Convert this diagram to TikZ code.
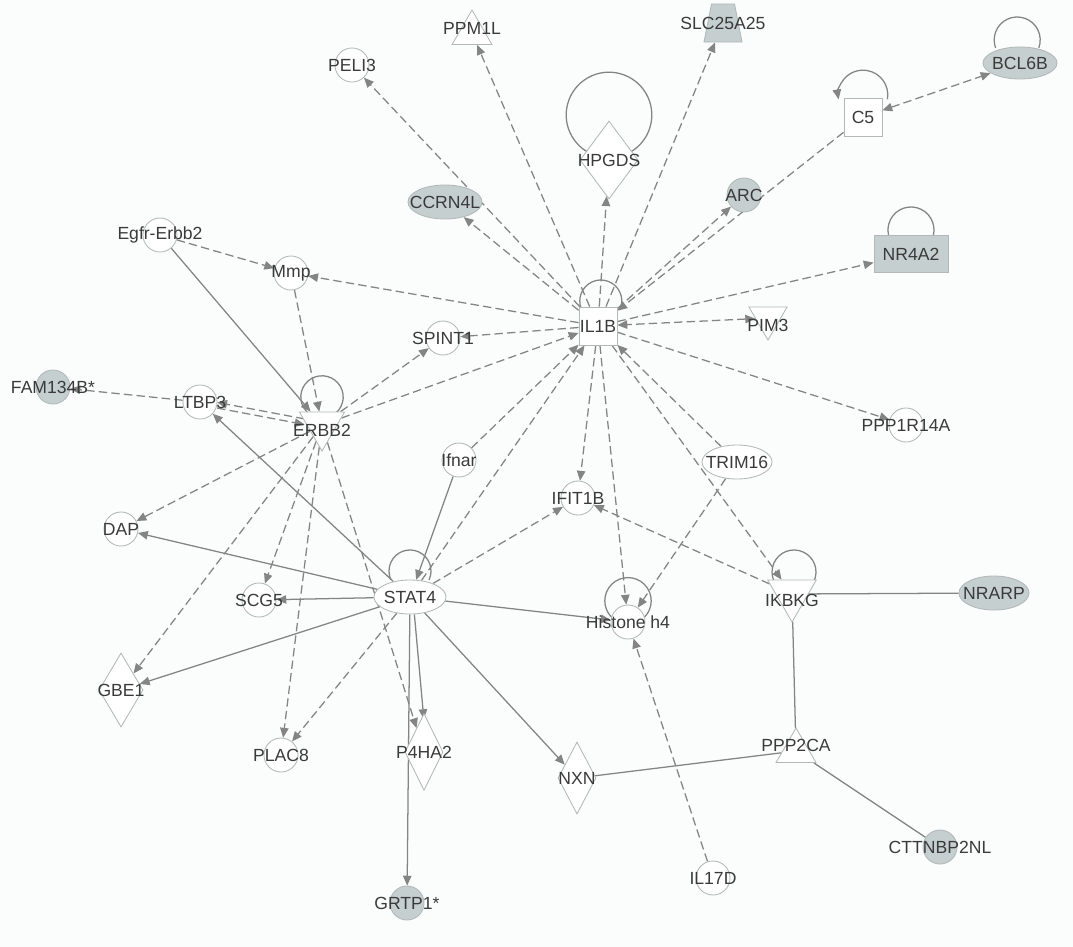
\documentclass[tikz,border=0pt]{standalone}
\usepackage{fontspec}
\setmainfont{Liberation Sans}
\usetikzlibrary{shapes.geometric, arrows.meta, positioning, backgrounds}
\definecolor{edgegray}{RGB}{132,132,132}
\definecolor{nodeline}{RGB}{178,184,184}
\definecolor{nodefill}{RGB}{198,207,207}
\definecolor{labelgray}{RGB}{58,58,58}
\definecolor{bggray}{RGB}{251,252,252}
\tikzset{
    gene/.style={draw=nodeline, line width=0.6pt, inner sep=0pt, fill=white},
    other/.style={gene, circle, minimum size=0.85cm},
    txreg/.style={gene, ellipse, minimum width=1.8cm, minimum height=0.85cm},
    enzyme/.style={gene, diamond, minimum width=1.1cm, minimum height=1.85cm},
    kinase/.style={gene, regular polygon, regular polygon sides=3, shape border rotate=180, minimum size=1.2cm},
    phosphatase/.style={gene, regular polygon, regular polygon sides=3, minimum size=1.15cm},
    cytokine/.style={gene, rectangle, minimum size=0.95cm},
    receptor/.style={gene, rectangle, minimum width=1.85cm, minimum height=0.92cm},
    transporter/.style={gene, trapezium, trapezium stretches=true, inner sep=2pt, trapezium left angle=72, trapezium right angle=72, minimum width=0.95cm, minimum height=0.95cm},
    focus/.style={fill=nodefill},
    gtext/.style={font=\fontsize{12.5}{14}\selectfont, text=labelgray, inner sep=0pt},
    bind/.style={line width=0.9pt, draw=edgegray},
    rel/.style={bind, -{Triangle[length=7pt, width=6pt]}},
    dashrel/.style={rel, dash pattern=on 6pt off 3pt}
}

\begin{document}
\begin{tikzpicture}[x=0.025cm, y=-0.025cm]

    \useasboundingbox (0,0) rectangle (1073,947);

    % ============================================================
    % Upper part: IL1B and its targets
    % ============================================================
    \node[phosphatase, label={[gtext, yshift=0.12cm]center:PPM1L}] (ppm1l) at (472,33) {};
    \node[other, label={[gtext]center:PELI3}] (peli3) at (352,65) {};
    \node[transporter, focus, label={[gtext]center:SLC25A25}] (slc25a25) at (723,23) {};
    \node[enzyme, minimum width=1.45cm, minimum height=1.95cm, label={[gtext]center:HPGDS}] (hpgds) at (609,160) {};
    \node[txreg, focus, minimum width=1.85cm, label={[gtext]center:CCRN4L}] (ccrn4l) at (445,202) {};
    \node[other, focus, label={[gtext]center:ARC}] (arc) at (744,195) {};
    \node[cytokine, label={[gtext]center:C5}] (c5) at (863,117) {};
    \node[txreg, focus, minimum width=1.85cm, minimum height=0.8cm, label={[gtext]center:BCL6B}] (bcl6b) at (1020,63) {};
    \node[receptor, focus, label={[gtext]center:NR4A2}] (nr4a2) at (911,254) {};
    \node[other, label={[gtext]center:Egfr-Erbb2}] (egfr) at (160,235) {};
    \node[other, label={[gtext]center:Mmp}] (mmp) at (291,273) {};
    \node[cytokine, label={[gtext]center:IL1B}] (il1b) at (598,326) {};
    \node[kinase, minimum size=1.1cm, label={[gtext, yshift=-0.175cm]center:PIM3}] (pim3) at (768,318) {};
    \node[other, label={[gtext]center:SPINT1}] (spint1) at (443,338) {};
    \node[other, label={[gtext]center:PPP1R14A}] (ppp1r14a) at (906,425) {};

    % ============================================================
    % Middle part: ERBB2 and STAT4
    % ============================================================
    \node[other, focus, label={[gtext]center:FAM134B*}] (fam134b) at (53,387) {};
    \node[other, label={[gtext]center:LTBP3}] (ltbp3) at (200,402) {};
    \node[kinase, minimum size=1.3cm, label={[gtext, yshift=-0.125cm]center:ERBB2}] (erbb2) at (322,425) {};
    \node[other, label={[gtext]center:Ifnar}] (ifnar) at (459,460) {};
    \node[txreg, minimum width=1.75cm, label={[gtext]center:TRIM16}] (trim16) at (737,462) {};
    \node[other, label={[gtext]center:IFIT1B}] (ifit1b) at (578,498) {};
    \node[other, label={[gtext]center:DAP}] (dap) at (121,529) {};
    \node[other, label={[gtext]center:SCG5}] (scg5) at (259,600) {};
    \node[txreg, label={[gtext]center:STAT4}] (stat4) at (410,597) {};
    \node[other, label={[gtext]center:Histone h4}] (histone) at (628,622) {};
    \node[kinase, minimum size=1.4cm, label={[gtext, yshift=-0.15cm]center:IKBKG}] (ikbkg) at (792,594) {};
    \node[txreg, focus, minimum width=1.75cm, label={[gtext]center:NRARP}] (nrarp) at (994,593) {};

    % ============================================================
    % Lower part
    % ============================================================
    \node[enzyme, label={[gtext]center:GBE1}] (gbe1) at (121,690) {};
    \node[other, label={[gtext]center:PLAC8}] (plac8) at (281,755) {};
    \node[enzyme, minimum width=0.95cm, minimum height=1.92cm, label={[gtext]center:P4HA2}] (p4ha2) at (424,752) {};
    \node[enzyme, minimum width=0.95cm, minimum height=1.8cm, label={[gtext]center:NXN}] (nxn) at (577,778) {};
    \node[phosphatase, label={[gtext, yshift=0.15cm]center:PPP2CA}] (ppp2ca) at (796,751) {};
    \node[other, focus, label={[gtext]center:GRTP1*}] (grtp1) at (407,903) {};
    \node[other, label={[gtext]center:IL17D}] (il17d) at (713,878) {};
    \node[other, focus, label={[gtext]center:CTTNBP2NL}] (cttnbp2nl) at (940,847) {};

    \begin{pgfonlayer}{background}
        \fill[bggray] (0,0) rectangle (1073,947);

        % self loops
        \draw[bind] ([yshift=1.125cm]hpgds.center) ++(-60:1.07cm) arc[start angle=-60, end angle=240, radius=1.07cm];
        \draw[rel] ([yshift=0.55cm]c5.center) ++(-10:0.62cm) arc[start angle=-10, end angle=190, radius=0.62cm];
        \draw[bind] ([xshift=-0.07cm, yshift=0.575cm]bcl6b.center) ++(-20:0.575cm) arc[start angle=-20, end angle=200, radius=0.575cm];
        \draw[bind] ([yshift=0.6cm]nr4a2.center) ++(-15:0.575cm) arc[start angle=-15, end angle=195, radius=0.575cm];
        \draw[bind] ([xshift=0.07cm, yshift=0.625cm]il1b.center) ++(-20:0.525cm) arc[start angle=-20, end angle=200, radius=0.525cm];
        \draw[bind] ([yshift=0.7cm]erbb2.center) ++(-60:0.53cm) arc[start angle=-60, end angle=240, radius=0.53cm];
        \draw[bind] ([yshift=0.65cm]stat4.center) ++(-25:0.525cm) arc[start angle=-25, end angle=205, radius=0.525cm];
        \draw[bind] ([yshift=0.53cm]histone.center) ++(-45:0.58cm) arc[start angle=-45, end angle=225, radius=0.58cm];
        \draw[bind] ([xshift=0.05cm, yshift=0.55cm]ikbkg.center) ++(-25:0.55cm) arc[start angle=-25, end angle=205, radius=0.55cm];

        % IL1B
        \draw[dashrel] (il1b) -- (peli3);
        \draw[dashrel] (il1b) -- (ppm1l);
        \draw[dashrel] (il1b) -- (ccrn4l);
        \draw[dashrel] (il1b) -- (mmp);
        \draw[dashrel] (il1b) -- (slc25a25);
        \draw[dashrel] (il1b) -- (hpgds);
        \draw[dashrel] (il1b) -- (arc);
        \draw[dashrel] (c5) -- (il1b);
        \draw[dashrel, {Triangle[length=7pt, width=6pt]}-{Triangle[length=7pt, width=6pt]}] (c5) -- (bcl6b);
        \draw[dashrel] (il1b) -- (nr4a2);
        \draw[dashrel, {Triangle[length=7pt, width=6pt]}-{Triangle[length=7pt, width=6pt]}] (pim3) -- (il1b);
        \draw[dashrel] (il1b) -- (ppp1r14a);
        \draw[dashrel] (trim16) -- (il1b);
        \draw[dashrel] (il1b) -- (ikbkg);
        \draw[dashrel] (il1b) -- (ifit1b);
        \draw[dashrel] (il1b) -- (histone);
        \draw[dashrel] (il1b) -- (spint1);
        \draw[dashrel] (erbb2) -- (il1b);
        \draw[dashrel] (ifnar) -- (il1b);
        \draw[dashrel] (stat4) -- (il1b);

        % ERBB2
        \draw[dashrel] (egfr) -- (mmp);
        \draw[rel] (egfr) -- (erbb2);
        \draw[dashrel] (mmp) -- (erbb2);
        \draw[dashrel] (erbb2) -- (spint1);
        \draw[dashrel, transform canvas={yshift=2pt}] (erbb2) -- (ltbp3);
        \draw[dashrel, transform canvas={yshift=-2pt}] (ltbp3) -- (erbb2);
        \draw[dashrel] (ltbp3) -- (fam134b);
        \draw[dashrel] (erbb2) -- (dap);
        \draw[dashrel] (erbb2) -- (scg5);
        \draw[dashrel] (erbb2) -- (gbe1);
        \draw[dashrel] (erbb2) -- (plac8);
        \draw[dashrel] (erbb2) -- (p4ha2);

        % STAT4
        \draw[rel] (ifnar) -- (stat4);
        \draw[rel] (stat4) -- (ltbp3);
        \draw[rel] (stat4) -- (dap);
        \draw[rel] (stat4) -- (scg5);
        \draw[rel] (stat4) -- (gbe1);
        \draw[dashrel] (stat4) -- (plac8);
        \draw[rel, transform canvas={xshift=2pt}] (stat4) -- (p4ha2);
        \draw[rel] (stat4) -- (grtp1);
        \draw[rel] (stat4) -- (nxn);
        \draw[rel] (stat4) -- (histone);
        \draw[dashrel] (stat4) -- (ifit1b);

        % IKBKG, PPP2CA and the rest
        \draw[dashrel] (ikbkg) -- (ifit1b);
        \draw[dashrel] (trim16) -- (histone);
        \draw[dashrel] (il17d) -- (histone);
        \draw[bind] (ikbkg) -- (nrarp);
        \draw[bind] (ikbkg) -- (ppp2ca);
        \draw[bind] (ppp2ca) -- (nxn);
        \draw[bind] (ppp2ca) -- (cttnbp2nl);
    \end{pgfonlayer}

\end{tikzpicture}
\end{document}
